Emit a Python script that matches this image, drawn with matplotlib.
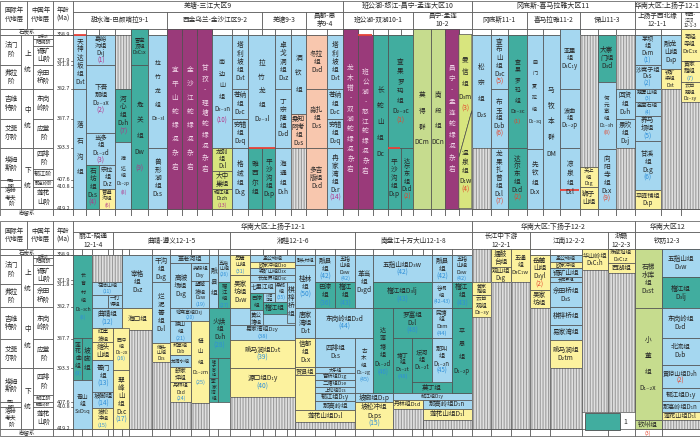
import numpy as np
import matplotlib.pyplot as plt
from matplotlib.patches import Rectangle, Polygon

plt.rcParams['font.family'] = ['Noto Sans CJK SC', 'DejaVu Sans']
plt.rcParams['hatch.linewidth'] = 0.8

# ---------------- data: time scale ----------------
INTL_STAGES = [("法门阶", 358.9, 371.8), ("弗拉阶", 371.8, 382.7), ("吉维特阶", 382.7, 387.7),
               ("艾菲尔阶", 387.7, 393.3), ("埃姆斯阶", 393.3, 407.6), ("布拉格阶", 407.6, 410.8),
               ("洛赫考夫阶", 410.8, 419.2)]
SERIES = [("上统", 358.9, 382.7), ("中统", 382.7, 393.3), ("下统", 393.3, 419.2)]
CN_STAGES = [("邵东阶", 358.9, 362), ("阳朔阶", 362, 366), ("锡矿山阶", 366, 371.8),
             ("佘田桥阶", 371.8, 382.7), ("东岗岭阶", 382.7, 387.7), ("应堂阶", 387.7, 393.3),
             ("四排阶", 393.3, 405), ("郁江阶", 405, 407.6), ("那高岭阶", 407.6, 410.8),
             ("莲花山阶", 410.8, 419.2)]
AGE_TICKS = ["358.9", "371.9", "371.8", "382.7", "387.7", "393.3", "407.6", "410.8", "419.2"]

# ---------------- data: region headers (label, first column, last column) ----------------
TOP_HEAD1 = [("羌塘-三江大区9", 0, 17), ("班公湖-怒江-昌宁-孟连大区10", 17, 26),
             ("冈底斯-喜马拉雅大区11", 26, 35), ("华南大区:上扬子12-1", 35, 38)]
TOP_HEAD2 = [("甜水海-巴颜喀拉9-1", 0, 6), ("西金乌兰-金沙江区9-2", 6, 12), ("羌塘9-3", 12, 15),
             ("昌都-思\n茅9-4", 15, 17), ("班公湖-双湖10-1", 17, 22), ("昌宁-孟连\n10-2", 22, 26),
             ("冈底斯11-1", 26, 29), ("喜马拉雅11-2", 29, 32), ("保山11-3", 32, 35),
             ("上扬子西北缘\n12-1-1", 35, 37), ("鄂西-\n江汉\n12-1-3", 37, 38)]
BOT_HEAD1 = [("华南大区:上扬子12-1", 0, 27), ("华南大区:下扬子12-2", 27, 34), ("华南大区12", 34, 36)]
BOT_HEAD2 = [("丽江-昭通\n12-1-4", 0, 4), ("曲靖-遵义12-1-5", 4, 12), ("湘桂12-1-6", 12, 20),
             ("南盘江十万大山12-1-8", 20, 27), ("长江中下游\n12-2-1", 27, 30), ("江南12-2-2", 30, 33),
             ("浙赣\n12-2-3", 33, 34), ("钦防12-3", 34, 36)]

# ---------------- data: formations (name, code, no., top age, base age, col from, col to, facies) ----------------
TOP_UNITS = [
    ("天神达坂组", "D₃t", "", 358.9, 382.7, 0, 1, "b"),
    ("落石沟组", "D₁₋₃l", "", 382.7, 419.2, 0, 1, "b"),
    ("嘉峪沟组", "D₃j", "(1)", 358.9, 371.8, 1, 3, "b"),
    ("下吾那组", "D₂₋₃x", "(2)", 371.8, 390.5, 1, 3, "b"),
    ("当多组", "D₁₋₂d", "(3)", 390.5, 403.3, 1, 3, "b"),
    ("石坊组", "D₁s", "(4)", 403.3, 419.2, 1, 2, "t"),
    ("宗拉组", "D₁z", "(5)", 403.3, 411.7, 2, 3, "b"),
    ("普遍沟组", "", "(6)", 411.7, 419.2, 2, 3, "y"),
    ("", "", "", 358.9, 382.7, 3, 4, "h"),
    ("河心组", "D₂h", "(7)", 382.7, 392.3, 3, 4, "t"),
    ("捧达组", "D₁₋₂p", "(8)", 392.3, 419.2, 3, 4, "b"),
    ("雪宝顶组", "D₃C₁x", "", 355, 371.8, 4, 5, "t"),
    ("危关组", "Dw", "(9)", 371.8, 419.2, 4, 5, "t"),
    ("拉竹龙组", "D₂₋₃l", "", 358.9, 393.3, 5, 6, "b"),
    ("兽形湖组", "D₁s", "", 393.3, 419.2, 5, 6, "b"),
    ("宜平山蛇绿混杂岩", "", "", 355, 419.2, 6, 7, "p"),
    ("金沙江蛇绿混杂岩", "", "", 355, 419.2, 7, 8, "p"),
    ("甘孜-理塘蛇绿混杂岩", "", "", 355, 419.2, 8, 9, "p"),
    ("南边山组", "D₂₋₃n", "(10)", 358.9, 393.3, 9, 10, "b"),
    ("龙别组", "D₁l", "(11)", 393.3, 405.5, 9, 10, "g"),
    ("大中巢组", "", "(12)", 405.5, 411.7, 9, 10, "g"),
    ("堤江组", "D₁zh", "(13)", 411.7, 419.2, 9, 10, "g"),
    ("塔利坡组", "D₃t", "", 358.9, 382.7, 10, 11, "b"),
    ("苍纳组", "D₂c", "", 382.7, 387.7, 10, 11, "b"),
    ("穷错组", "D₂q", "", 387.7, 393.3, 10, 11, "b"),
    ("格绒组", "D₁g", "", 393.3, 419.2, 10, 11, "b"),
    ("拉竹龙组", "D₂₋₃l", "", 358.9, 393.3, 11, 13, "b"),
    ("雅西尔组", "D₁₋₂y", "", 393.3, 419.2, 11, 12, "t"),
    ("平沙沟组", "D₁p", "", 393.3, 419.2, 12, 13, "t"),
    ("卓戈洞组", "D₃z", "", 358.9, 382.7, 13, 14, "b"),
    ("丁宗隆组", "D₂d", "", 382.7, 393.3, 13, 14, "b"),
    ("海通组", "D₁h", "", 393.3, 419.2, 13, 14, "b"),
    ("洒钦组", "D₂₋₃x", "", 358.9, 386.9, 14, 15, "b"),
    ("桑知阿考组", "D₂s", "", 386.9, 393.3, 14, 15, "o"),
    ("", "", "", 393.3, 419.2, 14, 15, "h"),
    ("冬拉组", "D₃d", "", 358.9, 382.7, 15, 16, "o"),
    ("淼扎组", "D₂s", "", 382.7, 393.3, 15, 16, "o"),
    ("多吉版组", "D₁d", "", 393.3, 419.2, 15, 16, "o"),
    ("塔利坡组", "D₃t", "", 358.9, 382.7, 16, 17, "b"),
    ("苍纳组", "D₂c", "", 382.7, 387.7, 16, 17, "b"),
    ("穷错组", "D₂q", "", 387.7, 393.3, 16, 17, "b"),
    ("冉家湾组", "D₁r", "(14)", 393.3, 419.2, 16, 17, "b"),
    ("龙木错-双湖蛇绿混杂岩", "", "", 355, 419.2, 17, 18, "p"),
    ("班公湖-怒江蛇绿混杂岩", "", "", 358.9, 419.2, 18, 19, "p"),
    ("长蛇山组", "Dc", "", 358.9, 419.2, 19, 20, "t"),
    ("查果罗玛组", "D₂₋₃c", "(1)", 358.9, 393.3, 20, 22, "t"),
    ("平沙沟组", "D₁p", "", 393.3, 419.2, 20, 21, "t"),
    ("达尔东组", "D₁d", "(2)", 393.3, 419.2, 21, 22, "t"),
    ("莫得群", "DCm", "", 355, 419.2, 22, 23, "l"),
    ("南段组", "DCn", "", 355, 419.2, 23, 24, "l"),
    ("昌宁-孟连蛇绿混杂岩", "", "", 355, 419.2, 24, 25, "p"),
    ("曼信组", "D₃m", "(3)", 358.9, (398.9, 386.4), 25, 26, "g"),
    ("温泉组", "D₁w", "(4)", (398.9, 386.4), 419.2, 25, 26, "g"),
    ("松宗组", "D₂s", "", 358.9, 393.3, 26, 27, "b"),
    ("", "", "", 393.3, 419.2, 26, 27, "h"),
    ("查布山组", "D₃c", "(5)", 358.9, 382.7, 27, 28, "b"),
    ("布玉组", "D₂b", "(6)", 382.7, 393.3, 27, 28, "b"),
    ("龙果扎普组", "D₁l", "(7)", 393.3, 419.2, 27, 28, "b"),
    ("查果罗玛组", "D₂₋₃c", "(1)", 358.9, 393.3, 28, 29, "t"),
    ("达尔东组", "D₁d", "(2)", 393.3, 419.2, 28, 29, "t"),
    ("曲门夏拉组", "D₁₋₃q", "", 358.9, 393.9, 29, 30, "b"),
    ("先钦组", "D₁x", "", 393.9, 419.2, 29, 30, "b"),
    ("马牧本群", "DM", "", 358.9, 419.2, 30, 31, "b"),
    ("亚里组", "D₃C₁y", "", 355, 382.7, 31, 32, "b"),
    ("波曲组", "D₁₋₂p", "", 382.7, 393.3, 31, 32, "b"),
    ("凉泉组", "D₁l", "", 393.3, 419.2, 31, 32, "b"),
    ("", "", "", 358.9, 404.2, 32, 33, "h"),
    ("关上组", "D₁g", "", 404.2, 411.1, 32, 33, "y"),
    ("狮子山组", "", "", 411.1, 419.2, 32, 33, "y"),
    ("大寨门组", "D₃d", "", 358.9, 379.8, 33, 34, "t"),
    ("何元寨组", "D₁₋₃h", "(8)", 379.8, 393.9, 33, 34, "b"),
    ("向阳寺组", "D₁x", "(9)", 393.9, 419.2, 33, 34, "b"),
    ("", "", "", 358.9, 382.7, 34, 35, "h"),
    ("回贤组", "D₂h", "", 382.7, 387.7, 34, 35, "b"),
    ("景坎组", "D₂j", "", 387.7, 393.3, 34, 35, "b"),
    ("", "", "", 393.3, 419.2, 34, 35, "h"),
    ("茅坝组", "D₃m", "(1)", 358.9, 371.8, 35, 36, "b"),
    ("沙窝子组", "D₃s", "(2)", 371.8, 382.7, 35, 36, "b"),
    ("观雾山组", "", "(3)", 382.7, 385, 35, 36, "b"),
    ("金宝石组", "", "(4)", 385, 387.2, 35, 36, "b"),
    ("养马坝组", "", "(5)", 387.2, 392, 35, 36, "b"),
    ("甘溪组", "D₁g", "(6)", 392, 412.3, 35, 36, "b"),
    ("平驿铺组", "D₁p", "", 412.3, 419.2, 35, 36, "y"),
    ("融龙山组", "D₃p", "", 358.9, 373.8, 36, 37, "b"),
    ("铁矿梁组", "D₃t", "", 373.8, 382.7, 36, 37, "y"),
    ("", "", "", 382.7, 419.2, 36, 37, "h"),
    ("写经寺组", "D₃C₁x", "", 355, 370.6, 37, 38, "y"),
    ("黄家蹬组", "", "(7)", 370.6, 379.8, 37, 38, "y"),
    ("云台观组", "D₂₋₃y", "", 379.8, 385, 37, 38, "y"),
    ("", "", "", 385, 419.2, 37, 38, "h"),
]

BOT_UNITS = [
    ("长育村组", "D₁₋₃ch", "(8)", 358.9, 387.5, 0, 2, "t"),
    ("莲花曲组", "", "(9)", 387.5, 398.5, 0, 1, "t"),
    ("坡脚组", "", "(10)", 387.5, 398.5, 1, 2, "t"),
    ("青山组", "S₃D₁q", "", 398.5, 419.2, 0, 2, "b"),
    ("", "", "", 358.9, 371.3, 2, 5, "h"),
    ("在结山组", "", "(11)", 371.3, 377, 2, 5, "b"),
    ("", "", "", 377, 382.9, 2, 3, "b"),
    ("一打得组", "D₃y", "", 377, 382.9, 3, 5, "b"),
    ("曲靖组", "", "(12)", 382.9, 386, 2, 5, "b"),
    ("红崖坡组", "", "", 386, 388.3, 2, 4, "y"),
    ("缩头山组", "", "", 388.3, 391.8, 2, 4, "y"),
    ("箐门组", "", "(13)", 391.8, 403.5, 2, 4, "b"),
    ("坡脚组", "", "(14)", 403.5, 411.3, 2, 4, "b"),
    ("坡松冲组", "", "(15)", 411.3, 419.2, 2, 4, "y"),
    ("宰格组", "D₃z", "", 358.9, 382.9, 5, 7, "b"),
    ("海口组", "", "", 382.9, 386.3, 5, 7, "y"),
    ("", "", "", 386.3, 419.2, 6, 7, "h"),
    ("西冲组", "D₁₋₂x", "(16)", 386, 394.2, 4, 6, "y"),
    ("翠峰山组", "D₁c", "(17)", 394.2, 419.2, 4, 6, "y"),
    ("干沟组", "D₃g", "", 358.9, 371.3, 7, 8, "b"),
    ("烂泥箐组", "D₂l", "", 371.3, 388.5, 7, 8, "b"),
    ("缩头山组", "D₂s", "", 388.5, 392.1, 7, 8, "y"),
    ("", "", "", 392.1, 419.2, 7, 8, "h"),
    ("革老河组", "", "(18)", 358.9, 364.9, 8, 10, "b"),
    ("高坡场组", "D₃g", "", 364.9, 382.9, 8, 9, "b"),
    ("尧梭组", "D₃y", "", 364.9, 370.9, 9, 10, "b"),
    ("望城坡组", "D₂w", "(19)", 370.9, 382.9, 9, 10, "b"),
    ("鸡窝寨组", "D₃j", "(20)", 382.9, 384.9, 8, 10, "b"),
    ("独山组", "", "(21)", 384.9, 388.3, 8, 9, "b"),
    ("邦寨组", "D₂b", "", 388.3, 390.8, 8, 9, "y"),
    ("龙洞水组", "", "(22)", 390.8, 393.1, 8, 9, "b"),
    ("舒家坪组", "", "(23)", 393.1, 399.4, 8, 9, "y"),
    ("丹林组", "D₁d", "(24)", 399.4, 407.6, 8, 9, "y"),
    ("", "", "", 407.6, 419.2, 8, 9, "h"),
    ("蟒山组", "D₁₋₂m", "(25)", 384.9, 408.2, 9, 10, "y"),
    ("", "", "", 408.2, 419.2, 9, 10, "h"),
    ("融县组", "D₃r", "", 358.9, 382.9, 10, 11, "b"),
    ("五指山组", "", "(26)", 358.9, 371.3, 11, 12, "b"),
    ("榴江组", "", "(27)", 371.3, 382.9, 11, 12, "t"),
    ("火烘组", "D₂h", "(28)", 382.9, 391.4, 10, 12, "t"),
    ("罐子窑组", "", "(29)", 391.4, 397.6, 10, 11, "t"),
    ("李家湾组", "", "(30)", 397.6, 407.6, 10, 11, "t"),
    ("", "", "", 391.4, 407.6, 11, 12, "t"),
    ("", "", "", 382.9, 385.5, 12, 17, "b"),
    ("易家湾组", "D₂y", "(38)", 385.5, 387.9, 12, 17, "b"),
    ("岳麓山组", "", "(31)", 358.9, 369, 12, 13, "y"),
    ("吴家坊组", "D₃w", "", 369, 382.9, 12, 13, "y"),
    ("孟公坳组", "", "(32)", 358.9, 364.1, 13, 17, "b"),
    ("欧家冲组", "D₃o", "", 364.1, 367, 13, 17, "y"),
    ("锡矿山组", "D₃x", "(33)", 367, 369, 13, 17, "b"),
    ("长龙界组", "D₃c", "(34)", 369, 371.1, 13, 17, "b"),
    ("七里江组", "", "", 371.1, 376.2, 13, 15, "b"),
    ("巴漆组", "", "(36)", 376.2, 383.2, 13, 14, "t"),
    ("黄公塘组", "", "", 383.2, 385.5, 13, 14, "b"),
    ("沙河江组", "", "(35)", 376.2, 380.1, 14, 15, "b"),
    ("桑郎组", "", "(35)", 371.1, 380.1, 15, 16, "b"),
    ("榴江组", "", "", 380.1, 383.8, 14, 16, "t"),
    ("棋梓桥组", "", "(37)", 371.1, 385.2, 16, 17, "b"),
    ("跳马涧组", "D₂t", "(39)", 387.9, 393.3, 12, 17, "y"),
    ("源口组", "D₁y", "(40)", 393.3, 405.6, 12, 17, "y"),
    ("", "", "", 405.6, 419.2, 12, 17, "h"),
    ("融头村组", "", "(41)", 358.9, 366, 17, 18, "b"),
    ("桂林组", "", "(50)", 366, 382.9, 17, 18, "b"),
    ("融县组", "", "(42)", 358.9, 371.3, 18, 19, "b"),
    ("五指山组", "D₃w", "(42)", 358.9, 371.3, 19, 20, "b"),
    ("巴漆组", "", "(36)", 371.3, 382.9, 18, 19, "t"),
    ("榴江组", "", "(43)", 371.3, 382.9, 19, 20, "t"),
    ("唐家湾组", "D₂t", "", 382.9, 387.5, 17, 18, "b"),
    ("东岗岭组", "D₂d", "(44)", 382.9, 387.5, 18, 21, "b"),
    ("信都组", "D₁x", "", 387.5, 393.1, 17, 18, "y"),
    ("四排组", "D₁s", "", 387.5, 393.1, 18, 20, "b"),
    ("贺县组", "", "", 393.1, 396.3, 17, 18, "y"),
    ("", "", "", 396.3, 411.9, 17, 18, "y"),
    ("大乐组", "D₁d", "(45)", 393.1, 395.5, 18, 20, "b"),
    ("官桥组", "D₁g", "", 395.5, 398.5, 18, 20, "b"),
    ("二塘组", "D₁e", "(45)", 398.5, 401.5, 18, 20, "b"),
    ("上伦组", "D₁s", "", 401.5, 404.3, 18, 20, "b"),
    ("郁江组", "D₁y", "(45)", 404.3, 407.4, 18, 20, "b"),
    ("那高岭组", "", "(45)", 407.4, 411.9, 18, 20, "b"),
    ("莲花山组", "D₁l", "", 411.9, 416.5, 17, 20, "y"),
    ("", "", "", 416.5, 419.2, 17, 20, "h"),
    ("革当组", "D₃gd", "", 358.9, 382.9, 20, 21, "b"),
    ("古木组", "D₁₋₂g", "(45)", 387.5, 404.3, 20, 21, "b"),
    ("坡脚组", "D₁p", "(14)", 404.3, 407.6, 20, 22, "b"),
    ("坡松冲组", "D₁ps", "(15)", 407.6, 419.2, 20, 22, "y"),
    ("五指山组", "D₃w", "(42)", 358.9, 371.3, 21, 25, "b"),
    ("榴江组", "D₃lj", "(43)", 371.3, 382.9, 21, 25, "t"),
    ("达莲塘组", "D₁₋₂d", "(46)", 382.9, 404.3, 21, 22, "t"),
    ("罗富组", "D₂l", "(48)", 382.9, 387.5, 22, 25, "t"),
    ("塘丁组", "D₁₋₂t", "(48)", 387.5, 404.3, 22, 23, "t"),
    ("坛河组", "D₁₋₂t", "", 387.5, 399.4, 23, 25, "t"),
    ("莫丁组", "", "(49)", 399.4, 404.3, 23, 26, "t"),
    ("郁江组", "D₁y", "(45)", 404.3, 406.9, 22, 27, "b"),
    ("丹林组", "D₁d", "", 406.9, 411.4, 22, 24, "y"),
    ("那高岭组", "D₁n", "(45)", 406.9, 411.4, 24, 27, "b"),
    ("", "", "", 411.4, 419.2, 22, 24, "h"),
    ("莲花山组", "D₁l", "", 411.4, 415.8, 24, 27, "y"),
    ("", "", "", 415.8, 419.2, 24, 27, "h"),
    ("融县组", "", "(42)", 358.9, 371.3, 25, 26, "b"),
    ("谷闲组", "", "(42-43)", 371.3, 382.9, 25, 26, "b"),
    ("民塘组", "D₂m", "(44)", 382.9, 387.5, 25, 26, "b"),
    ("那叫组", "D₁₋₂n", "(45)", 387.5, 399.4, 25, 26, "b"),
    ("五指山组", "D₃w", "(42)", 358.9, 371.3, 26, 27, "b"),
    ("榴江组", "", "(43)", 371.3, 382.9, 26, 27, "t"),
    ("平恩组", "D₁₋₂p", "(44)(49)", 382.9, 404.3, 26, 27, "t"),
    ("", "", "", 355, 419.2, 27, 28, "h"),
    ("黄家蹬组", "", "", 371.2, 377, 27, 28, "y"),
    ("云台观组", "D₂₋₃y", "", 377, 384.2, 27, 28, "y"),
    ("擂鼓台组", "", "(1)", 355, 366.5, 28, 29, "y"),
    ("观山组", "D₃g", "", 366.5, 371.3, 28, 29, "y"),
    ("", "", "", 371.3, 419.2, 28, 29, "h"),
    ("五通组", "D₃C₁w", "", 355, 371.3, 29, 30, "y"),
    ("", "", "", 371.3, 419.2, 29, 30, "h"),
    ("岳麓山组", "D₃yl", "(2)", 358.9, 374.6, 30, 31, "y"),
    ("吴家坊组", "", "", 374.6, 382.9, 30, 31, "y"),
    ("", "", "", 382.9, 419.2, 30, 31, "h"),
    ("孟公坳组", "", "", 358.9, 364.1, 31, 32, "b"),
    ("欧家冲组", "", "", 364.1, 367, 31, 32, "y"),
    ("锡矿山组", "", "", 367, 369.6, 31, 32, "b"),
    ("长龙界组", "D₃c", "", 369.6, 371.3, 31, 32, "b"),
    ("佘田桥组", "D₃s", "", 371.3, 382.7, 31, 32, "b"),
    ("棋梓桥组", "", "", 382.7, 385.5, 31, 32, "b"),
    ("易家湾组", "", "", 385.5, 387.9, 31, 32, "b"),
    ("跳马涧组", "D₂tm", "", 387.9, 393.3, 31, 32, "y"),
    ("", "", "", 393.3, 419.2, 31, 32, "h"),
    ("华山岭组", "D₃C₁h", "", 355, 367.5, 32, 33, "y"),
    ("", "", "", 367.5, 412.7, 32, 33, "h"),
    ("珠藏坞组", "D₃C₁z", "", 355, 364.9, 33, 34, "y"),
    ("西湖组", "", "", 364.9, 368.4, 33, 34, "y"),
    ("", "", "", 368.4, 412.7, 33, 34, "h"),
    ("石梯水库组", "D₃st", "", 355, 382.9, 34, 35, "l"),
    ("小董组", "D₁₋₂x", "", 382.9, 415.8, 34, 35, "l"),
    ("钦州组", "", "", 415.8, 419.2, 34, 35, "l"),
    ("五指山组", "D₃w", "", 355, 369.6, 35, 36, "b"),
    ("榴江组", "D₃lj", "", 369.6, 382.9, 35, 36, "t"),
    ("东岗岭组", "D₂d", "", 382.9, 387.5, 35, 36, "b"),
    ("北流组", "D₂b", "", 387.5, 392.7, 35, 36, "b"),
    ("黄猄山组", "D₂h", "(2)", 392.7, 402, 35, 36, "b"),
    ("郁江组", "D₁y", "", 402, 407.4, 35, 36, "b"),
    ("那高岭组", "D₁n", "", 407.4, 412.6, 35, 36, "b"),
    ("莲花山组", "D₁l", "", 412.6, 415.8, 35, 36, "y"),
    ("", "", "", 415.8, 419.2, 35, 36, "h"),
]

# unconformity marks (col from, col to, age)
TOP_RED = [(0, 1, 358.9), (18, 19, 358.9), (11, 13, 393.3), (20, 21, 393.3), (31, 32, 412.3)]

# ---------------- layout ----------------
TOP_EDGES = [73, 86, 99, 115, 131, 148, 167, 182, 197, 212, 232, 248, 262, 275, 291, 306, 327, 343,
             358, 373, 388, 401, 413, 431, 445, 459, 472, 491, 508, 527, 543, 560, 580, 598, 616, 635,
             661, 681, 700]
BOT_EDGES = [73, 82, 92, 108, 113, 122, 129, 152, 170, 191, 209, 218, 230, 250, 263, 275, 287, 295,
             315, 335, 355, 373, 393, 412, 423, 432, 452, 472, 491, 511, 530, 550, 582, 608, 635, 662, 700]
AGE_ANCHORS = [355, 358.9, 362, 366, 371.8, 382.7, 387.7, 393.3, 405, 407.6, 410.8, 419.2]
TOP_ROWS = [-6, 0, 4, 11, 30, 54, 84, 113, 134, 145, 152, 174]
BOT_ROWS = [-6, 0, 3, 10, 29, 52, 84, 113, 140, 147, 152, 174]
TICK_SHIFT = {"371.9": -4.0}
LEFT_X = [0, 21, 33, 53, 73]

FILL = {"b": "#a5d7f0", "t": "#41ad9f", "y": "#fcf29e", "g": "#d8e57e", "l": "#c6dc8e",
        "o": "#f8c7ae", "p": "#9a3a7a", "h": "#e0e0e0"}
LINE = "#4d4d4d"
TXT = "#262626"
PX = 100 / 72


def yy(age, rows):
    return float(np.interp(age, AGE_ANCHORS, rows))


def text_w(s, fs):
    w = 0.0
    for ch in s:
        if ord(ch) > 0x2E80:
            w += 1.0
        elif ch in "()-":
            w += 0.36
        else:
            w += 0.6
    return w * fs * PX


def put_label(ax, x0, x1, y0, y1, name, code="", num="", tcol=TXT, ncol=TXT, fs0=4.8, maxn=None):
    w, h = x1 - x0, y1 - y0

    def build(fs, use_code, use_num):
        cw = fs * PX
        lh = cw * 1.2
        n = max(1, int((w - 1.5) / cw))
        if maxn:
            n = min(n, maxn)
        if h >= w:
            n = min(n, 2)
        if h > 3 * w:
            n = 1
        rows = []
        n2 = n
        if name:
            k = -(-len(name) // n)
            n2 = -(-len(name) // k)
            rows = [[name[i:i + n2], tcol] for i in range(0, len(name), n2)]
        extra = []
        if use_code and code:
            extra.append([code, tcol])
        if use_num and num:
            extra.append([num, ncol])
        if len(rows) == 1 and extra and extra[0][1] == tcol:
            joined = rows[0][0] + extra[0][0]
            if text_w(joined, fs) <= w - 2 and (h < 3.2 * lh or w > 45):
                rows = [[joined, tcol]]
                extra = extra[1:]
        allr = rows + extra
        if not allr:
            return allr, lh, True, n2
        ok = len(allr) * lh <= h - 0.5 and max(text_w(r[0], fs) for r in allr) <= w - 1
        return allr, lh, ok, n2

    result = None
    for use_code, use_num, fmin in [(1, 1, 3.4), (1, 0, 3.2), (0, 0, 2.6)]:
        fs = fs0
        while fs >= fmin:
            allr, lh, ok, n2 = build(fs, use_code, use_num)
            if ok:
                result = (allr, lh, fs, n2)
                break
            fs -= 0.2
        if result:
            break
    if result is None:
        allr, lh, ok, n2 = build(2.6, 0, 0)
        result = (allr, lh, 2.6, n2)
    allr, lh, fs, n2 = result
    if not allr:
        return
    gap = lh
    if n2 == 1 and len(allr) > 1:
        gap = min(max(lh, h * 0.62 / len(allr)), 2.4 * fs * PX)
    cy = (y0 + y1) / 2
    total = gap * len(allr)
    for i, (s, c) in enumerate(allr):
        ax.text((x0 + x1) / 2, cy - total / 2 + gap * (i + 0.5), s, fontsize=fs, color=c,
                ha="center", va="center")


def cell(ax, x0, x1, y0, y1, fc="white", lw=0.5):
    ax.add_patch(Rectangle((x0, y0), x1 - x0, y1 - y0, facecolor=fc, edgecolor=LINE, lw=lw))


def num_color(x, split):
    for lim, c in split:
        if x < lim:
            return c
    return split[-1][1]


def draw_panel(ax, edges, rows, head1, head2, units, split, red=()):
    ax.set_xlim(-0.5, 700.5)
    ax.set_ylim(181.5, -34.5)
    ax.axis("off")

    # left time scale
    cell(ax, 0, 27, -34, -6)
    ax.text(13.5, -20, "国际年\n代地层", fontsize=4.6, ha="center", va="center", color=TXT, linespacing=1.1)
    cell(ax, 27, 53, -34, -6)
    ax.text(40, -20, "中国年\n代地层", fontsize=4.6, ha="center", va="center", color=TXT, linespacing=1.1)
    cell(ax, 53, 73, -34, -6)
    ax.text(63, -20, "年龄\n(Ma)", fontsize=4.6, ha="center", va="center", color=TXT, linespacing=1.1)
    cell(ax, 0, 53, -6, 0)
    ax.text(26.5, -3, "石炭系", fontsize=4, ha="center", va="center", color=TXT)
    cell(ax, 53, 73, -6, 0)
    cell(ax, 0, 53, 174, 181)
    ax.text(26.5, 177.5, "志留系", fontsize=4, ha="center", va="center", color=TXT)
    cell(ax, 53, 73, 174, 181)
    for k, stages in enumerate([INTL_STAGES, SERIES, CN_STAGES]):
        for nm, a0, a1 in stages:
            y0, y1 = yy(a0, rows), yy(a1, rows)
            cell(ax, LEFT_X[k], LEFT_X[k + 1], y0, y1)
            put_label(ax, LEFT_X[k], LEFT_X[k + 1], y0, y1, nm, fs0=4.8, maxn=2 if k < 2 else None)
    cell(ax, 53, 73, 0, 174)
    for lab in AGE_TICKS:
        y = yy(float(lab), rows) + TICK_SHIFT.get(lab, 0)
        ax.text(63, y, lab, fontsize=3.9, ha="center", va="center", color=TXT)
        ax.plot([70.5, 73], [y, y], color=LINE, lw=0.5)

    # region headers
    for lab, a, b in head1:
        cell(ax, edges[a], edges[b], -34, -23)
        ax.text((edges[a] + edges[b]) / 2, -28.5, lab, fontsize=5, ha="center", va="center", color=TXT)
    for lab, a, b in head2:
        cell(ax, edges[a], edges[b], -23, -6)
        nl = lab.count("\n") + 1
        ax.text((edges[a] + edges[b]) / 2, -14.5, lab, fontsize=4.8 if nl < 3 else 3.4,
                ha="center", va="center", color=TXT, linespacing=1.05)
    for a, b in zip(edges[:-1], edges[1:]):
        cell(ax, a, b, -6, 0)
        cell(ax, a, b, 174, 181)

    # formations
    for name, code, num, top, base, e0, e1, fac in units:
        x0, x1 = edges[e0], edges[e1]
        tl, tr = top if isinstance(top, tuple) else (top, top)
        bl, br = base if isinstance(base, tuple) else (base, base)
        pts = [(x0, yy(tl, rows)), (x1, yy(tr, rows)), (x1, yy(br, rows)), (x0, yy(bl, rows))]
        if fac == "h":
            ax.add_patch(Polygon(pts, closed=True, facecolor=FILL["h"], edgecolor="#9c9c9c",
                                 hatch="||||||", lw=0))
            ax.add_patch(Polygon(pts, closed=True, fill=False, edgecolor=LINE, lw=0.5))
        else:
            ax.add_patch(Polygon(pts, closed=True, facecolor=FILL[fac], edgecolor=LINE, lw=0.5))
        tcol = "#f2d8ea" if fac == "p" else TXT
        y0 = (pts[0][1] + pts[1][1]) / 2
        y1 = (pts[2][1] + pts[3][1]) / 2
        if name or code:
            put_label(ax, x0, x1, y0, y1, name, code, num, tcol=tcol, ncol=num_color(x0, split))

    for a, b, age in red:
        y = yy(age, rows)
        ax.plot([edges[a] + 0.5, edges[b] - 0.5], [y, y], color="#e8433a", lw=1.3, solid_capstyle="butt")


fig = plt.figure(figsize=(7, 4.38), dpi=100)
ax_top = fig.add_axes([0, 1 - 216 / 438, 1, 216 / 438])
ax_bot = fig.add_axes([0, 1 - 436.5 / 438, 1, 216 / 438])

draw_panel(ax_top, TOP_EDGES, TOP_ROWS, TOP_HEAD1, TOP_HEAD2, TOP_UNITS,
           [(343, "#b2338a"), (635, "#e5452c"), (701, "#2f8fd8")], TOP_RED)
draw_panel(ax_bot, BOT_EDGES, BOT_ROWS, BOT_HEAD1, BOT_HEAD2, BOT_UNITS,
           [(472, "#2f8fd8"), (701, "#e5452c")])

# legend: 1 = carbonate platform margin (teal)
ax_bot.add_patch(Rectangle((585, 158), 35, 17, facecolor=FILL["t"], edgecolor=LINE, lw=0.6, zorder=4))
ax_bot.text(626, 166.5, "1", fontsize=5, ha="center", va="center", color=TXT)
ax_bot.text(648.5, 178, "(3)", fontsize=3.8, ha="center", va="center", color="#e5452c")

fig.savefig("out.png", dpi=100)
